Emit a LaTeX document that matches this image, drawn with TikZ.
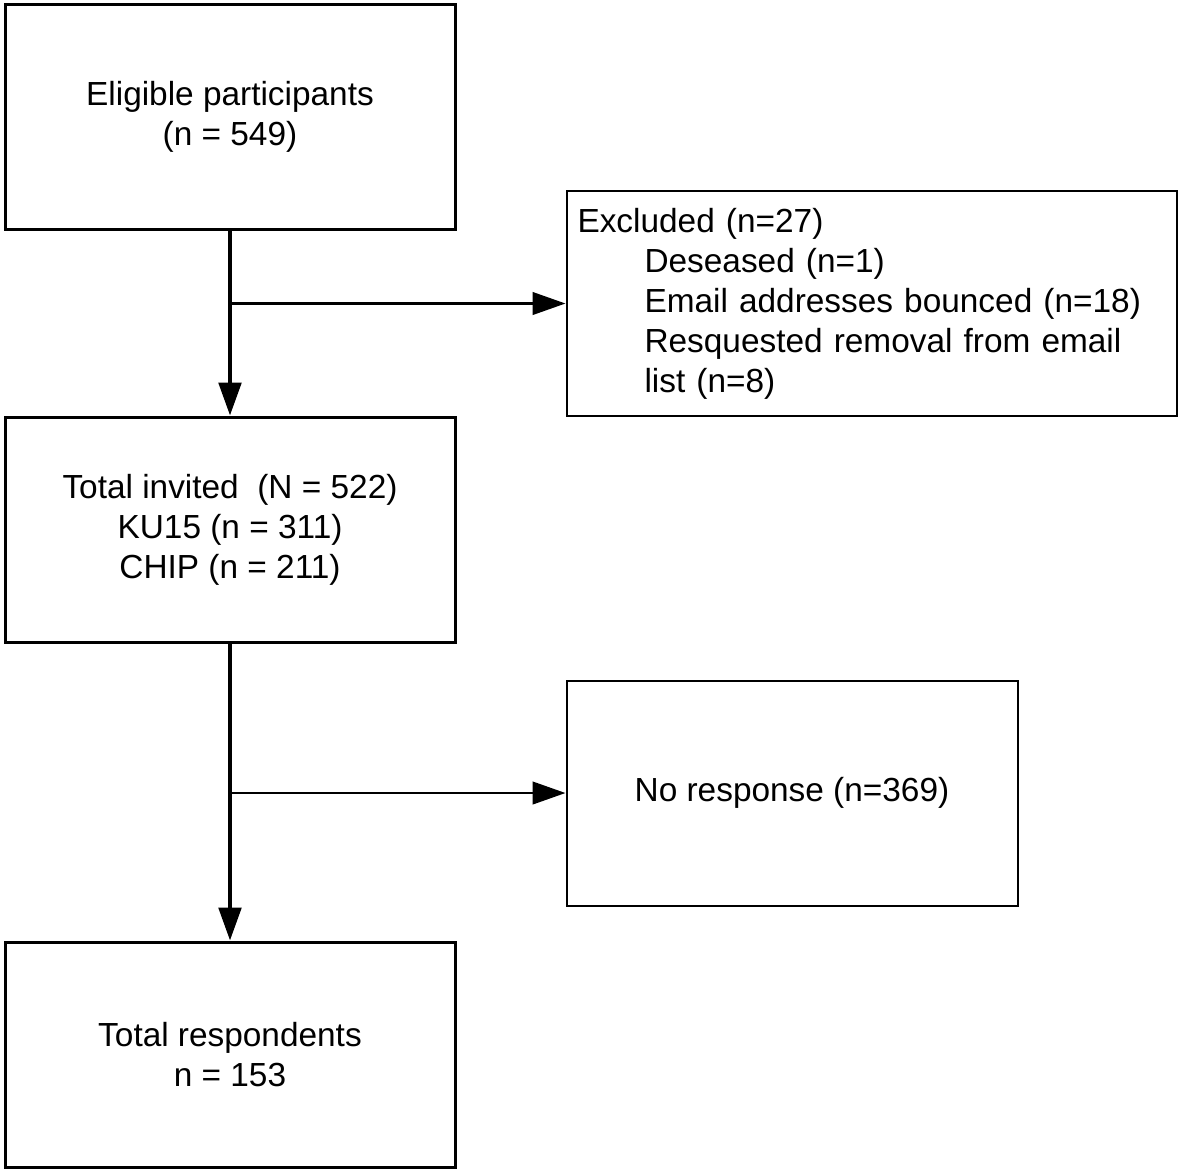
\documentclass[tikz,border=0pt]{standalone}
\usepackage{fontspec}
\setmainfont{Liberation Sans}
\usetikzlibrary{positioning}
\usetikzlibrary{arrows.meta}

\begin{document}
\begin{tikzpicture}[main/.style = {draw, line width=0.06cm, minimum width=9cm, minimum height=4.5cm, align=center, inner sep=0pt},
side/.style = {draw, line width=0.04cm, minimum height=4.5cm, inner sep=0pt},
>={Triangle[length=0.66cm, width=0.45cm]},
font=\fontsize{19}{22.8}\selectfont]
\useasboundingbox (0,0) rectangle (23.62,-23.46);
\node[main] (1) at (4.6,-2.33) {Eligible participants\\(n = 549)};
\node[main] (3) [below=3.70cm of 1] {Total invited~~(N = 522)\\KU15 (n = 311)\\CHIP (n = 211)};
\node[main] (5) [below=5.94cm of 3] {Total respondents\\n = 153};
\node[side, minimum width=12.2cm, text width=11.76cm, align=left] (2) [right=2.18cm of 1, yshift=-3.74cm] {Excluded (n=27)\\
\hspace*{1.34cm}Deseased (n=1)\\
\hspace*{1.34cm}Email addresses bounced (n=18)\\
\hspace*{1.34cm}Resquested removal from email\\
\hspace*{1.34cm}list (n=8)};
\node[side, minimum width=9.02cm] (4) [right=2.18cm of 3, yshift=-5.27cm] {No response (n=369)};
\coordinate (b1) at (1 |- 2);
\coordinate (b3) at (3 |- 4);
\path (1) edge [->, line width=0.08cm] (3);
\path (b1) edge [->, line width=0.055cm] (2);
\path (3) edge [->, line width=0.08cm] (5);
\path (b3) edge [->, line width=0.055cm] (4);
\end{tikzpicture}
\end{document}
